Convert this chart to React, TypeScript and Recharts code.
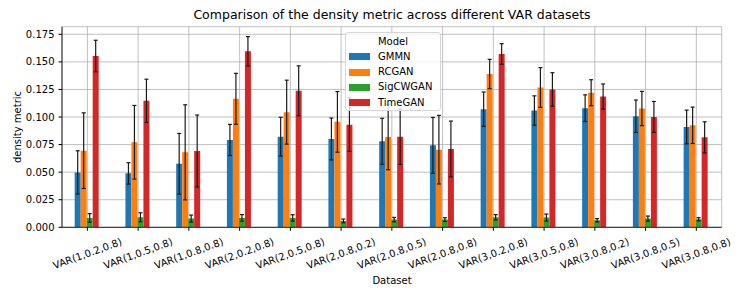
import React from 'react'
import {
  BarChart,
  Bar,
  XAxis,
  YAxis,
  CartesianGrid,
  ErrorBar,
  Legend,
} from 'recharts'

const datasets = [
  'VAR(1,0.2,0.8)', 'VAR(1,0.5,0.8)', 'VAR(1,0.8,0.8)', 'VAR(2,0.2,0.8)',
  'VAR(2,0.5,0.8)', 'VAR(2,0.8,0.2)', 'VAR(2,0.8,0.5)', 'VAR(2,0.8,0.8)',
  'VAR(3,0.2,0.8)', 'VAR(3,0.5,0.8)', 'VAR(3,0.8,0.2)', 'VAR(3,0.8,0.5)',
  'VAR(3,0.8,0.8)',
]

const gmmn = [0.0498, 0.0489, 0.0576, 0.0792, 0.0822, 0.0801, 0.078, 0.0743, 0.1071, 0.1059, 0.108, 0.1007, 0.091]
const gmmnErr = [0.0196, 0.0097, 0.0275, 0.0141, 0.0176, 0.019, 0.0208, 0.0253, 0.0156, 0.0133, 0.0121, 0.0147, 0.0153]

const rcgan = [0.0695, 0.0771, 0.068, 0.1165, 0.1044, 0.0956, 0.0819, 0.0704, 0.139, 0.1268, 0.122, 0.1077, 0.0925]
const rcganErr = [0.0343, 0.0334, 0.0431, 0.0231, 0.029, 0.0275, 0.0297, 0.0311, 0.0133, 0.018, 0.0118, 0.0155, 0.0165]

const sigcwgan = [0.0085, 0.0091, 0.0079, 0.0085, 0.0085, 0.0058, 0.007, 0.007, 0.0091, 0.0088, 0.0064, 0.0079, 0.0073]
const sigcwganErr = [0.0039, 0.0041, 0.0032, 0.003, 0.0029, 0.0017, 0.002, 0.0017, 0.0024, 0.0032, 0.0015, 0.0023, 0.0014]

const timegan = [0.1553, 0.1147, 0.0692, 0.1596, 0.1238, 0.0931, 0.0822, 0.071, 0.1572, 0.125, 0.1186, 0.1001, 0.0816]
const timeganErr = [0.0143, 0.0196, 0.0326, 0.0133, 0.0226, 0.0243, 0.0252, 0.0253, 0.0093, 0.0152, 0.0114, 0.014, 0.0141]

const yTicks = [0, 0.025, 0.05, 0.075, 0.1, 0.125, 0.15, 0.175]

const models = [
  { key: 'GMMN', color: '#1f77b4' },
  { key: 'RCGAN', color: '#ff7f0e' },
  { key: 'SigCWGAN', color: '#2ca02c' },
  { key: 'TimeGAN', color: '#d62728' },
]

const data = datasets.map((name, i) => ({
  name,
  GMMN: gmmn[i],
  GMMNErr: gmmnErr[i],
  RCGAN: rcgan[i],
  RCGANErr: rcganErr[i],
  SigCWGAN: sigcwgan[i],
  SigCWGANErr: sigcwganErr[i],
  TimeGAN: timegan[i],
  TimeGANErr: timeganErr[i],
}))

const font = '"DejaVu Sans", sans-serif'

const XTick = ({ x, y, payload }: any) => (
  <g transform={`translate(${x},${y})`}>
    <text
      transform="translate(0,20.7) rotate(-20)"
      textAnchor="middle"
      dy="0.35em"
      fontSize={10}
      fontFamily={font}
      fill="#000"
    >
      {payload.value}
    </text>
  </g>
)

const LegendBox = () => (
  <div
    style={{
      width: 96,
      height: 79,
      boxSizing: 'border-box',
      border: '1px solid #d6d6d6',
      borderRadius: 3,
      background: 'rgba(255,255,255,0.8)',
      fontFamily: font,
      fontSize: 10,
      color: '#000',
      position: 'relative',
    }}
  >
    <div style={{ position: 'absolute', top: 3, left: 0, width: '100%', textAlign: 'center', lineHeight: '12px' }}>
      Model
    </div>
    {models.map((m, i) => (
      <div key={m.key} style={{ position: 'absolute', left: 3, top: 18 + i * 15.4, height: 12, display: 'flex', alignItems: 'center' }}>
        <span style={{ display: 'inline-block', width: 21, height: 7, background: m.color }} />
        <span style={{ marginLeft: 8, lineHeight: '12px' }}>{m.key}</span>
      </div>
    ))}
  </div>
)

export default function App() {
  return (
    <div style={{ position: 'relative', width: 739, height: 291 }}>
      <div
        style={{
          position: 'absolute',
          left: 54,
          width: 660,
          top: 0,
          textAlign: 'center',
          fontFamily: font,
          fontSize: 12.5,
          lineHeight: '14px',
          color: '#000',
        }}
      >
        Comparison of the density metric across different VAR datasets
      </div>
      <div
        style={{
          position: 'absolute',
          left: 9,
          top: 119,
          width: 0,
          height: 0,
          fontFamily: font,
          fontSize: 10,
          color: '#000',
        }}
      >
        <div style={{ position: 'absolute', transform: 'translate(-50%,-50%) rotate(-90deg)', whiteSpace: 'nowrap', left: 0, top: 0 }}>
          density metric
        </div>
      </div>
      <div
        style={{
          position: 'absolute',
          left: 54,
          width: 660,
          top: 267,
          textAlign: 'center',
          fontFamily: font,
          fontSize: 10,
          lineHeight: '12px',
          color: '#000',
        }}
      >
        Dataset
      </div>
      <BarChart
        width={739}
        height={291}
        data={data}
        margin={{ top: 18.7, right: 25.3, bottom: 0, left: 0 }}
        barCategoryGap="25%"
        barGap={0}
      >
        <CartesianGrid stroke="#b0b0b0" strokeWidth={0.8} />
        <XAxis
          dataKey="name"
          interval={0}
          height={71.7}
          tick={<XTick />}
          tickSize={3.5}
          tickMargin={2}
          tickLine={{ stroke: '#000' }}
          axisLine={{ stroke: '#222' }}
        />
        <XAxis
          xAxisId="top"
          dataKey="name"
          orientation="top"
          height={0}
          tick={false}
          tickLine={false}
          axisLine={{ stroke: '#222' }}
        />
        <YAxis
          width={54}
          domain={[0, 0.1819]}
          ticks={yTicks}
          tickFormatter={(v: number) => v.toFixed(3)}
          tick={{ fontSize: 10, fontFamily: font, fill: '#000' }}
          tickSize={3.5}
          tickMargin={4}
          tickLine={{ stroke: '#000' }}
          axisLine={{ stroke: '#222' }}
          allowDataOverflow
        />
        <YAxis
          yAxisId="right"
          orientation="right"
          width={0}
          tick={false}
          tickLine={false}
          axisLine={{ stroke: '#222' }}
        />
        {models.map((m) => (
          <Bar key={m.key} dataKey={m.key} fill={m.color} isAnimationActive={false}>
            <ErrorBar dataKey={`${m.key}Err`} width={2} stroke="#1a1a1a" strokeWidth={1.2} />
          </Bar>
        ))}
        <Legend
          layout="vertical"
          align="center"
          verticalAlign="middle"
          content={<LegendBox />}
          wrapperStyle={{ position: 'absolute', left: 337, top: 23.7, width: 96, height: 79 }}
        />
      </BarChart>
    </div>
  )
}
